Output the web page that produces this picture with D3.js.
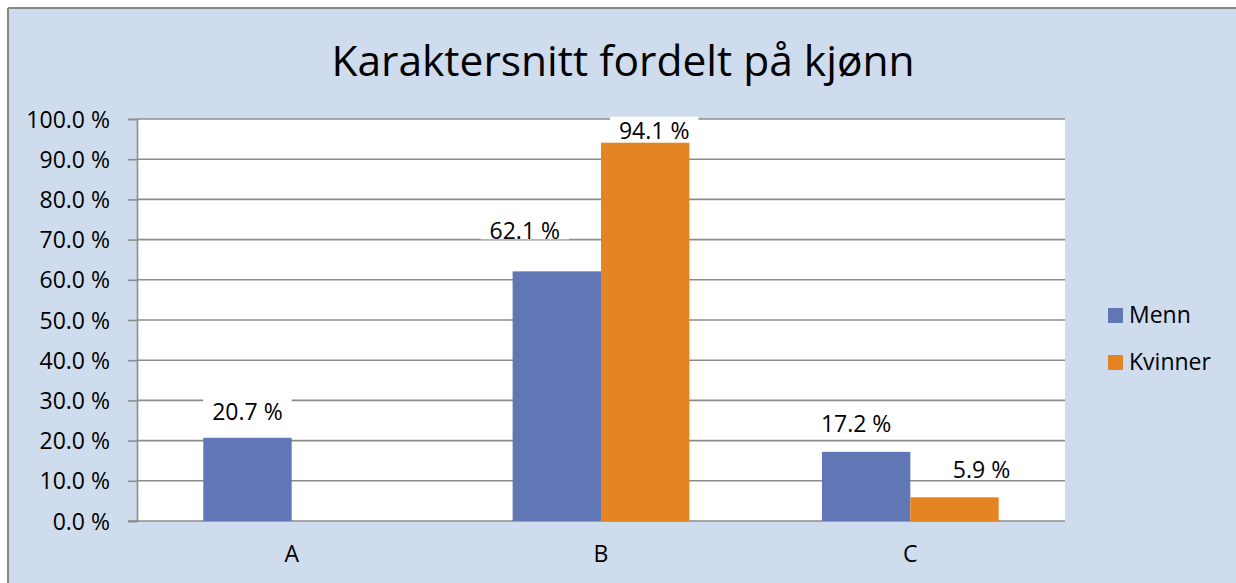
<!DOCTYPE html>
<html>
<head>
<meta charset="utf-8">
<script src="https://cdn.jsdelivr.net/npm/d3@7"></script>
<style>
  html, body { margin: 0; padding: 0; background: #ffffff; }
  svg { display: block; }
  text { font-family: "Open Sans", "Noto Sans", sans-serif; fill: #000; }
</style>
</head>
<body>
<svg id="chart" width="1236" height="583"></svg>
<script>
// ---- data ----
const title = "Karaktersnitt fordelt på kjønn";
const categories = ["A", "B", "C"];
const seriesNames = ["Menn", "Kvinner"];
const menn = [20.7, 62.1, 17.2];
const kvinner = [null, 94.1, 5.9];
const yTicks = [0, 10, 20, 30, 40, 50, 60, 70, 80, 90, 100];

// ---- drawing ----
const W = 1236, H = 583;
const colors = { Menn: "#6176b4", Kvinner: "#e58422" };
const svg = d3.select("#chart");
const FS = 23;

// chart background with border (left & top visible)
svg.append("rect").attr("x", 8).attr("y", 8).attr("width", W).attr("height", H)
  .attr("fill", "#cfdcee");
svg.append("line").attr("x1", 8).attr("x2", W).attr("y1", 8).attr("y2", 8)
  .attr("stroke", "#878787").attr("stroke-width", 2);
svg.append("line").attr("x1", 8).attr("x2", 8).attr("y1", 8).attr("y2", H)
  .attr("stroke", "#878787").attr("stroke-width", 2);

const plot = { left: 137, right: 1065, top: 119, bottom: 521 };

const x0 = d3.scaleBand().domain(categories).range([plot.left, plot.right]).paddingInner(0).paddingOuter(0);
// gap width 150% => group occupies 2/(2+1.5) of category
const groupW = x0.bandwidth() * 2 / 3.5;
const x1 = d3.scaleBand().domain(seriesNames).range([0, groupW]).padding(0);
const y = d3.scaleLinear().domain([0, 100]).range([plot.bottom, plot.top]);

// plot area
svg.append("rect").attr("x", plot.left).attr("y", plot.top)
  .attr("width", plot.right - plot.left).attr("height", plot.bottom - plot.top)
  .attr("fill", "#ffffff");

// gridlines
svg.append("g").selectAll("line").data(yTicks.filter(d => d > 0)).join("line")
  .attr("x1", plot.left).attr("x2", plot.right)
  .attr("y1", d => y(d)).attr("y2", d => y(d))
  .attr("stroke", "#8c8c8c").attr("stroke-width", 1.6);

// y axis
const yAxis = d3.axisLeft(y).tickValues(yTicks).tickSize(9).tickPadding(18)
  .tickFormat(d => d.toFixed(1) + " %");
const gy = svg.append("g").attr("transform", `translate(${plot.left},0)`).call(yAxis);
gy.select(".domain").attr("stroke", "#8c8c8c").attr("stroke-width", 1.6);
gy.selectAll(".tick line").attr("stroke", "#8c8c8c").attr("stroke-width", 1.6);
gy.selectAll(".tick text").attr("font-size", FS).attr("font-family", "'Open Sans', sans-serif")
  .attr("fill", "#000").attr("dy", "0.35em");

// x axis
const xAxis = d3.axisBottom(x0).tickSize(0).tickPadding(25);
const gx = svg.append("g").attr("transform", `translate(0,${plot.bottom})`).call(xAxis);
gx.select(".domain").attr("stroke", "#8c8c8c").attr("stroke-width", 1.6)
  .attr("d", `M${plot.left - 9},0H${plot.right}`);
gx.selectAll(".tick text").attr("font-size", FS).attr("font-family", "'Open Sans', sans-serif")
  .attr("fill", "#000");

// bars
const rows = categories.map((c, i) => ({ cat: c, values: [
  { s: "Menn", v: menn[i], i }, { s: "Kvinner", v: kvinner[i], i } ] }));
const offset = (x0.bandwidth() - groupW) / 2;

const groups = svg.append("g").selectAll("g").data(rows).join("g")
  .attr("transform", d => `translate(${x0(d.cat) + offset},0)`);
groups.selectAll("rect").data(d => d.values.filter(v => v.v != null)).join("rect")
  .attr("x", d => x1(d.s)).attr("width", x1.bandwidth())
  .attr("y", d => y(d.v)).attr("height", d => y(0) - y(d.v))
  .attr("fill", d => colors[d.s]);

// data labels (nudged as in the reference)
const nudge = {
  "Menn-0": [0, -18], "Menn-1": [-32, -32], "Menn-2": [-10, -20],
  "Kvinner-1": [9, -4], "Kvinner-2": [27, -19]
};
const labels = svg.append("g");
rows.forEach(r => r.values.filter(v => v.v != null).forEach(v => {
  const n = nudge[v.s + "-" + v.i] || [0, -18];
  const cx = x0(r.cat) + offset + x1(v.s) + x1.bandwidth() / 2 + n[0];
  const by = y(v.v) + n[1];
  const g = labels.append("g");
  const t = g.append("text").attr("x", cx).attr("y", by).attr("text-anchor", "middle")
    .attr("font-size", FS).text(v.v.toFixed(1) + " %");
  const w = t.node().getComputedTextLength();
  g.insert("rect", "text").attr("x", cx - w / 2 - 9).attr("y", by - 22)
    .attr("width", w + 18).attr("height", 22).attr("fill", "#ffffff");
}));

// title
svg.append("text").attr("x", 623).attr("y", 76).attr("text-anchor", "middle")
  .attr("font-size", 42.5).text(title);

// legend
const leg = svg.append("g");
seriesNames.forEach((s, i) => {
  const ly = 308 + i * 47;
  leg.append("rect").attr("x", 1108).attr("y", ly).attr("width", 15).attr("height", 15)
    .attr("fill", colors[s]);
  leg.append("text").attr("x", 1129).attr("y", ly + 15).attr("font-size", FS).text(s);
});
</script>
</body>
</html>
